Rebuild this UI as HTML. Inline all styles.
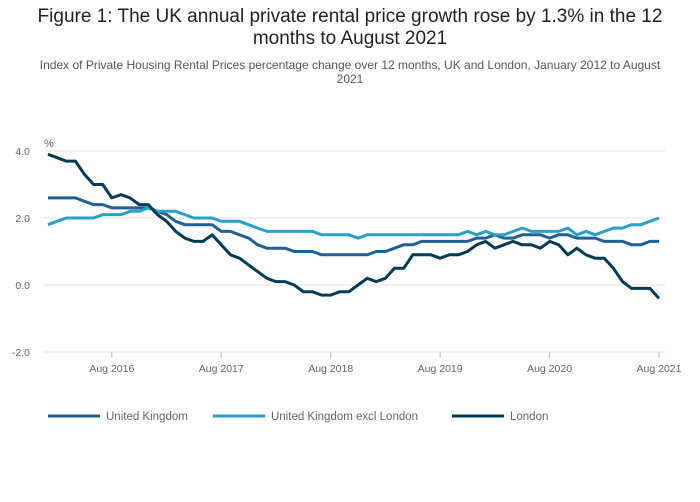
<!DOCTYPE html>
<html><head><meta charset="utf-8"><style>
body{margin:0;background:#fff;font-family:"Liberation Sans",sans-serif;}
#wrap{position:relative;width:700px;height:502px;overflow:hidden;}
.title{position:absolute;left:30px;top:6px;width:640px;text-align:center;font-size:19px;line-height:22px;color:#222;}
.sub{position:absolute;left:25px;top:58px;width:650px;text-align:center;font-size:12px;line-height:14px;color:#555;}
</style></head><body>
<div id="wrap">
<div class="title">Figure 1: The UK annual private rental price growth rose by 1.3% in the 12<br>months to August 2021</div>
<div class="sub">Index of Private Housing Rental Prices percentage change over 12 months, UK and London, January 2012 to August<br>2021</div>
<svg id="chart" width="700" height="502" style="position:absolute;left:0;top:0"></svg>
</div>
<script>
const months = 68; // Jan 2016 .. Aug 2021
const xTickLabels = ["Aug 2016","Aug 2017","Aug 2018","Aug 2019","Aug 2020","Aug 2021"];
const xTickIndex = [7,19,31,43,55,67];
const yTicks = [4,2,0,-2];
const yTickLabels = ["4.0","2.0","0.0","-2.0"];
const ukValues = [2.6,2.6,2.6,2.6,2.5,2.4,2.4,2.3,2.3,2.3,2.3,2.3,
 2.2,2.1,1.9,1.8,1.8,1.8,1.8,1.6,1.6,1.5,1.4,1.2,
 1.1,1.1,1.1,1.0,1.0,1.0,0.9,0.9,0.9,0.9,0.9,0.9,
 1.0,1.0,1.1,1.2,1.2,1.3,1.3,1.3,1.3,1.3,1.3,1.4,
 1.4,1.5,1.4,1.4,1.5,1.5,1.5,1.4,1.5,1.5,1.4,1.4,
 1.4,1.3,1.3,1.3,1.2,1.2,1.3,1.3];
const exclLondonValues = [1.8,1.9,2.0,2.0,2.0,2.0,2.1,2.1,2.1,2.2,2.2,2.3,
 2.2,2.2,2.2,2.1,2.0,2.0,2.0,1.9,1.9,1.9,1.8,1.7,
 1.6,1.6,1.6,1.6,1.6,1.6,1.5,1.5,1.5,1.5,1.4,1.5,
 1.5,1.5,1.5,1.5,1.5,1.5,1.5,1.5,1.5,1.5,1.6,1.5,
 1.6,1.5,1.5,1.6,1.7,1.6,1.6,1.6,1.6,1.7,1.5,1.6,
 1.5,1.6,1.7,1.7,1.8,1.8,1.9,2.0];
const londonValues = [3.9,3.8,3.7,3.7,3.3,3.0,3.0,2.6,2.7,2.6,2.4,2.4,
 2.1,1.9,1.6,1.4,1.3,1.3,1.5,1.2,0.9,0.8,0.6,0.4,
 0.2,0.1,0.1,0.0,-0.2,-0.2,-0.3,-0.3,-0.2,-0.2,0.0,0.2,
 0.1,0.2,0.5,0.5,0.9,0.9,0.9,0.8,0.9,0.9,1.0,1.2,
 1.3,1.1,1.2,1.3,1.2,1.2,1.1,1.3,1.2,0.9,1.1,0.9,
 0.8,0.8,0.5,0.1,-0.1,-0.1,-0.1,-0.4];
const seriesNames = ["United Kingdom","United Kingdom excl London","London"];
const seriesColors = ["#206095","#27a0cc","#003c57"];

const NS="http://www.w3.org/2000/svg";
const svg=document.getElementById('chart');
const x0=48,x1=659;
function xScale(i){return x0+(x1-x0)*i/(months-1);}
function yScale(v){return 285-v*33.5;}
function mk(t,a){const e=document.createElementNS(NS,t);for(const k in a)e.setAttribute(k,a[k]);svg.appendChild(e);return e;}

yTicks.forEach((v,i)=>{
  const g=mk('line',{x1:44,x2:665,y1:yScale(v),y2:yScale(v),stroke:'#e0e0e0','stroke-width':1});
  
  
  const t=mk('text',{x:30,y:yScale(v)+4,'text-anchor':'end','font-size':10.5,fill:'#666','font-family':'Liberation Sans, sans-serif'});
  t.textContent=yTickLabels[i];
  
  
});
const pct=mk('text',{x:44,y:147,'font-size':11,fill:'#666','font-family':'Liberation Sans, sans-serif'});
pct.textContent='%';



xTickIndex.forEach((idx,i)=>{
  const l=mk('line',{x1:xScale(idx),x2:xScale(idx),y1:352,y2:358,stroke:'#bbb','stroke-width':1});
  
  
  const t=mk('text',{x:xScale(idx),y:372,'text-anchor':'middle','font-size':10.5,fill:'#666','font-family':'Liberation Sans, sans-serif'});
  t.textContent=xTickLabels[i];
  
  
});

[ukValues,exclLondonValues,londonValues].forEach((vals,s)=>{
  const d=vals.map((v,i)=>(i?'L':'M')+xScale(i).toFixed(1)+','+yScale(v).toFixed(1)).join(' ');
  const p=mk('path',{d:d,fill:'none',stroke:seriesColors[s],'stroke-width':3,'stroke-linejoin':'round'});
  
  
});

const legendX=[48,213,452];
seriesNames.forEach((n,s)=>{
  const l=mk('line',{x1:legendX[s],x2:legendX[s]+52,y1:416,y2:416,stroke:seriesColors[s],'stroke-width':3});
  
  
  const t=mk('text',{x:legendX[s]+58,y:420,'font-size':11.5,fill:'#666','font-family':'Liberation Sans, sans-serif'});
  t.textContent=n;
  
  
});
</script>
</body></html>
